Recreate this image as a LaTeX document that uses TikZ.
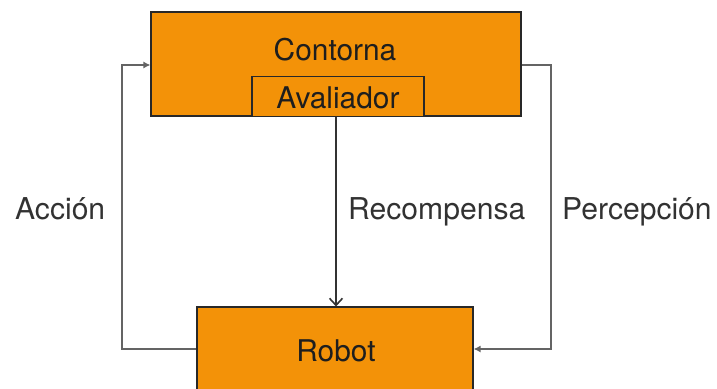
\documentclass[tikz,border=0pt]{standalone}
\usepackage{fontspec}
\setmainfont{TeX Gyre Heros}
\usetikzlibrary{arrows.meta}
\definecolor{boxorange}{RGB}{243,146,8}
\definecolor{boxline}{RGB}{40,40,40}
\definecolor{conn}{RGB}{100,100,100}
\definecolor{txt}{RGB}{30,30,30}
\definecolor{lbl}{RGB}{50,50,50}
\tikzset{
  box/.style={draw=boxline, fill=boxorange, line width=1.1bp, inner sep=0pt},
  boxtext/.style={text=txt, inner sep=0pt, anchor=base, font=\fontsize{30}{31}\selectfont},
  lbltext/.style={text=lbl, inner sep=0pt, anchor=base west, font=\fontsize{30.2}{31}\selectfont},
  connector/.style={draw=conn, line width=1.3bp},
  tri/.style={-{Latex[length=7bp,width=7bp]}},
  open/.style={-{Straight Barb[length=7bp,width=13bp,line width=1.6bp]}}
}
\begin{document}
\begin{tikzpicture}[x=1bp,y=-1bp]
\useasboundingbox (0,0) rectangle (717,388);
\clip (0,0) rectangle (717,388);
% boxes
\node[box, minimum width=370bp, minimum height=104bp] (contorna) at (336,64) {};
\node[box, minimum width=172bp, minimum height=40bp] (aval) at (338,96.5) {};
\node[box, minimum width=276bp, minimum height=100bp] (robot) at (335,357) {};
% box texts
\node[boxtext] (tcont) at (335,60) {Contorna};
\node[boxtext] (taval) at (338,108) {Avaliador};
\node[boxtext] (trobot) at (336,361) {Robot};
% coordinates
\coordinate (cl) at (contorna.west |- 0,65);
\coordinate (cr) at (contorna.east |- 0,65);
\coordinate (rl) at (robot.west |- 0,349);
\coordinate (rr) at (robot.east |- 0,349);
\coordinate (ltop) at (122,65);
\coordinate (lbot) at (122,349);
\coordinate (rtop) at (551,65);
\coordinate (rbot) at (551,349);
% connectors
\draw[connector, tri] (rl) -- (lbot) -- (ltop) -- (cl);
\draw[connector, tri] (cr) -- (rtop) -- (rbot) -- (rr);
\draw[connector, draw=black!80, open] (aval.south -| 336,0) -- (robot.north -| 336,0);
% labels
\node[lbltext] (accion) at (15,219) {Acción};
\node[lbltext] (recomp) at (348,219) {Recompensa};
\node[lbltext] (percep) at (562,219) {Percepción};
\end{tikzpicture}
\end{document}
